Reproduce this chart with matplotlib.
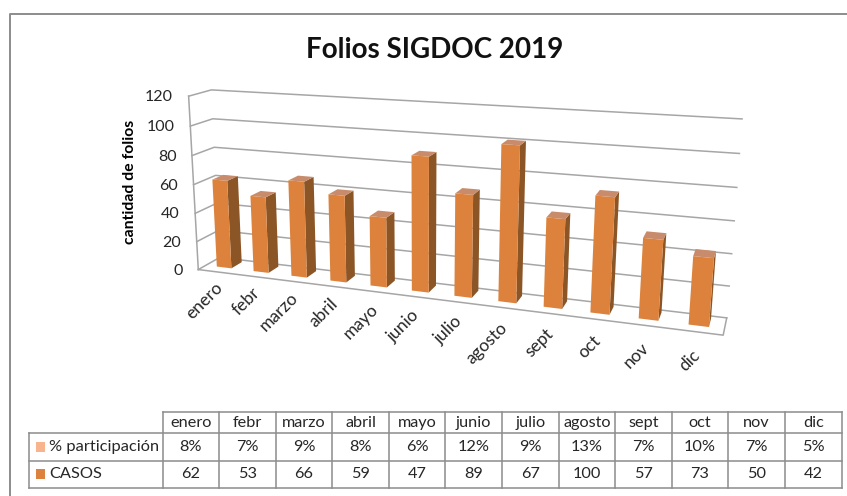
import matplotlib
matplotlib.use('Agg')
import matplotlib.pyplot as plt
from matplotlib.patches import Polygon, Rectangle
import numpy as np

plt.rcParams['font.family'] = ['Lato', 'DejaVu Sans']

meses = ['enero', 'febr', 'marzo', 'abril', 'mayo', 'junio', 'julio', 'agosto', 'sept', 'oct', 'nov', 'dic']
casos = [62, 53, 66, 59, 47, 89, 67, 100, 57, 73, 50, 42]
participacion = ['8%', '7%', '9%', '8%', '6%', '12%', '9%', '13%', '7%', '10%', '7%', '5%']
ticks_y = [0, 20, 40, 60, 80, 100, 120]

GRID = '#a6a6a6'
TEXT = '#262626'
FRONT = '#dc823c'
SIDE = '#8c5526'
TOP = '#c88c6c'
LIGHT = '#f8b48c'

# pixel positions of the box corners, (mes, profundidad, valor) -> (x, y)
corners = [((0, 0, 0), (200, 269)), ((0, 1, 0), (218, 258)),
           ((0, 0, 120), (187, 96)), ((0, 1, 120), (213, 90)),
           ((12, 0, 0), (723, 336)), ((12, 1, 0), (727, 317)),
           ((12, 1, 120), (742, 119))]

rows = []
for (x, y, z), (u, v) in corners:
    rows.append([x, y, z, 1, 0, 0, 0, 0, -u * x, -u * y, -u * z, -u])
    rows.append([0, 0, 0, 0, x, y, z, 1, -v * x, -v * y, -v * z, -v])
P = np.linalg.svd(np.array(rows, dtype=float))[2][-1].reshape(3, 4)


def proj(x, y, z):
    u, v, w = P @ np.array([x, y, z, 1.0])
    return u / w, v / w


fig = plt.figure(figsize=(8.47, 4.96), dpi=100)
ax = fig.add_axes([0, 0, 1, 1])
ax.set_xlim(0, 847)
ax.set_ylim(496, 0)
ax.axis('off')

# outer frame
ax.plot([10, 10, 847], [496, 14, 14], color='#8c8c8c', lw=1.4)

ax.text(435, 50, 'Folios SIGDOC 2019', fontsize=20, fontweight='bold', ha='center', va='center', color='#111111')
ax.text(130, 182, 'cantidad de folios', fontsize=11.3, fontweight='bold', rotation=90, ha='center', va='center', color='black')

# walls and floor
for t in ticks_y:
    a, b, c = proj(0, 0, t), proj(0, 1, t), proj(12, 1, t)
    ax.plot([a[0], b[0], c[0]], [a[1], b[1], c[1]], color=GRID, lw=1.1, zorder=1)
    ax.text(a[0] - 15.5, a[1] + 1, str(t), fontsize=11.5, ha='right', va='center', color=TEXT)
for pts in ([proj(0, 0, 0), proj(0, 0, 120)],
            [proj(0, 0, 0), proj(12, 0, 0), proj(12, 1, 0)]):
    pts = np.array(pts)
    ax.plot(pts[:, 0], pts[:, 1], color=GRID, lw=1.1, zorder=1)

# bars, front face plus the side and the top
w = 0.2
y0, y1 = 0.35, 0.85
for i, v in enumerate(casos):
    xa, xb = i + 0.5 - w, i + 0.5 + w
    front = [proj(xa, y0, 0), proj(xb, y0, 0), proj(xb, y0, v), proj(xa, y0, v)]
    side = [proj(xb, y0, 0), proj(xb, y1, 0), proj(xb, y1, v), proj(xb, y0, v)]
    top = [proj(xa, y0, v), proj(xb, y0, v), proj(xb, y1, v), proj(xa, y1, v)]
    ax.add_patch(Polygon(side, closed=True, fc=SIDE, ec='none', zorder=3))
    ax.add_patch(Polygon(top, closed=True, fc=TOP, ec='none', zorder=3))
    ax.add_patch(Polygon(front, closed=True, fc=FRONT, ec='none', zorder=4))
    lx, ly = proj(i + 0.5, 0, 0)
    ax.text(lx - 2 - 0.3 * i, ly + 7 + 0.7 * i, meses[i], fontsize=12.5, rotation=45, ha='right', va='top',
            rotation_mode='anchor', color=TEXT)

# data table
x_head, x_ini, x_fin = 29, 162.5, 841.5
y_tab = [412, 433, 461, 487.5]
cols = np.linspace(x_ini, x_fin, len(meses) + 1)
for x in cols:
    ax.plot([x, x], [y_tab[0], y_tab[3]], color='#8c8c8c', lw=1.1)
ax.plot([x_head, x_head], [y_tab[1], y_tab[3]], color='#8c8c8c', lw=1.1)
ax.plot([x_ini, x_fin], [y_tab[0], y_tab[0]], color='#8c8c8c', lw=1.1)
for y in y_tab[1:]:
    ax.plot([x_head, x_fin], [y, y], color='#8c8c8c', lw=1.1)

for i in range(len(meses)):
    xc = (cols[i] + cols[i + 1]) / 2
    ax.text(xc, 423, meses[i], fontsize=11.7, ha='center', va='center', color=TEXT)
    ax.text(xc, 447, participacion[i], fontsize=11.7, ha='center', va='center', color=TEXT)
    ax.text(xc, 474, str(casos[i]), fontsize=11.7, ha='center', va='center', color=TEXT)

ax.add_patch(Rectangle((36, 442), 9, 10, fc=LIGHT, ec='none'))
ax.add_patch(Rectangle((36, 469), 9, 10, fc=FRONT, ec='none'))
ax.text(49, 446.5, '% participación', fontsize=11.8, ha='left', va='center', color=TEXT)
ax.text(49, 473.5, 'CASOS', fontsize=11.8, ha='left', va='center', color=TEXT)

fig.savefig('out.png', dpi=100)
